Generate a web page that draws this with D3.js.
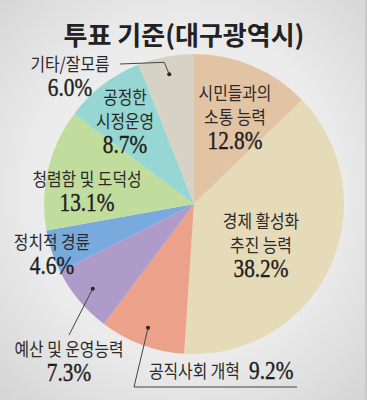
<!DOCTYPE html>
<html><head><meta charset="utf-8">
<script src="https://cdn.jsdelivr.net/npm/d3@7"></script>
<style>html,body{margin:0;padding:0;overflow:hidden;}svg{display:block;}</style>
</head><body>
<script>
const title = "투표 기준(대구광역시)";
const categories = ["시민들과의 소통 능력","경제 활성화 추진 능력","공직사회 개혁","예산 및 운영능력","정치적 경륜","청렴함 및 도덕성","공정한 시정운영","기타/잘모름"];
const values = [12.8, 38.2, 9.2, 7.3, 4.6, 13.1, 8.7, 6.0];
const colors = ["#e2c3a4","#e5dbb9","#eca28a","#ae9bca","#78aade","#c1dd9e","#96d6d3","#d6d3c6"];
const labelLines = [
  ["시민들과의","소통 능력"],
  ["경제 활성화","추진 능력"],
  [],
  ["예산 및 운영능력"],
  ["정치적 경륜"],
  ["청렴함 및 도덕성"],
  ["공정한","시정운영"],
  ["기타/잘모름"]
];
const W=367,H=400, cx=194, cy=204, R=150;
const labelPos = [[41,-104],[67,24],null,[-125,152],[-142,45],[-107,-18],[-69,-100],[-124,-133]];
const svg=d3.select("body").append("svg").attr("width",W).attr("height",H);
const defs=svg.append("defs");
const g=defs.append("radialGradient").attr("id","bg").attr("cx","50%").attr("cy","48%").attr("r","70%");
g.append("stop").attr("offset","0%").attr("stop-color","#f3f3f3");
g.append("stop").attr("offset","60%").attr("stop-color","#ebebeb");
g.append("stop").attr("offset","100%").attr("stop-color","#d6d6d6");
svg.append("rect").attr("width",W).attr("height",H).attr("fill","url(#bg)");
svg.append("rect").attr("x",W-2).attr("width",2).attr("height",H).attr("fill","#c9c9c9");

svg.append("text").attr("text-anchor","middle")
  .attr("font-family","Noto Sans CJK KR").attr("font-weight",700).attr("font-size",26)
  .attr("fill","#222").attr("transform","translate(184,45) scale(1,1)").text(title);

const pie=d3.pie().sort(null).value(d=>d);
const arcs=pie(values);
const arc=d3.arc().innerRadius(0).outerRadius(R);
const pg=svg.append("g").attr("transform",`translate(${cx},${cy})`);
pg.selectAll("path").data(arcs).join("path").attr("d",arc).attr("fill",(d,i)=>colors[i]);

const KR="Noto Sans CJK KR", SER="Liberation Serif";
function krText(x,y,t,anchor){
  pg.append("text").attr("text-anchor",anchor||"middle").attr("font-family",KR).attr("font-size",18)
   .attr("fill","#2a2a2a").attr("transform",`translate(${x},${y}) scale(0.88,1)`).text(t);
}
function pctText(x,y,t,anchor){
  pg.append("text").attr("text-anchor",anchor||"middle").attr("font-family",SER).attr("font-size",26)
   .attr("fill","#1e1e1e").attr("stroke","#1e1e1e").attr("stroke-width",0.4)
   .attr("transform",`translate(${x},${y}) scale(0.82,1)`).text(t);
}
const fmt=d3.format(".1f");
labelLines.forEach((lines,i)=>{
  const p=labelPos[i]; if(!p) return;
  lines.forEach((t,j)=>krText(p[0],p[1]+j*24,t));
  pctText(p[0],p[1]+lines.length*24+1,fmt(values[i])+"%");
});
const dotArc=d3.arc().innerRadius(132).outerRadius(132);
function dot(i){ const c=dotArc.centroid(arcs[i]); pg.append("circle").attr("cx",c[0]).attr("cy",c[1]).attr("r",2).attr("fill","#222"); return c;}
const line=d3.line();
let c=dot(7);
pg.append("path").attr("d",line([c,[c[0]-5,c[1]-12],[-74,-140]])).attr("fill","none").attr("stroke","#444").attr("stroke-width",1);
c=dot(3);
pg.append("path").attr("d",line([c,[-125,131]])).attr("fill","none").attr("stroke","#444").attr("stroke-width",1);
c=dot(2);
pg.append("path").attr("d",line([c,[-60,183],[103,183]])).attr("fill","none").attr("stroke","#444").attr("stroke-width",1);
krText(-45,174,"공직사회 개혁","start");
pctText(55,175,fmt(values[2])+"%","start");
</script>
</body></html>
